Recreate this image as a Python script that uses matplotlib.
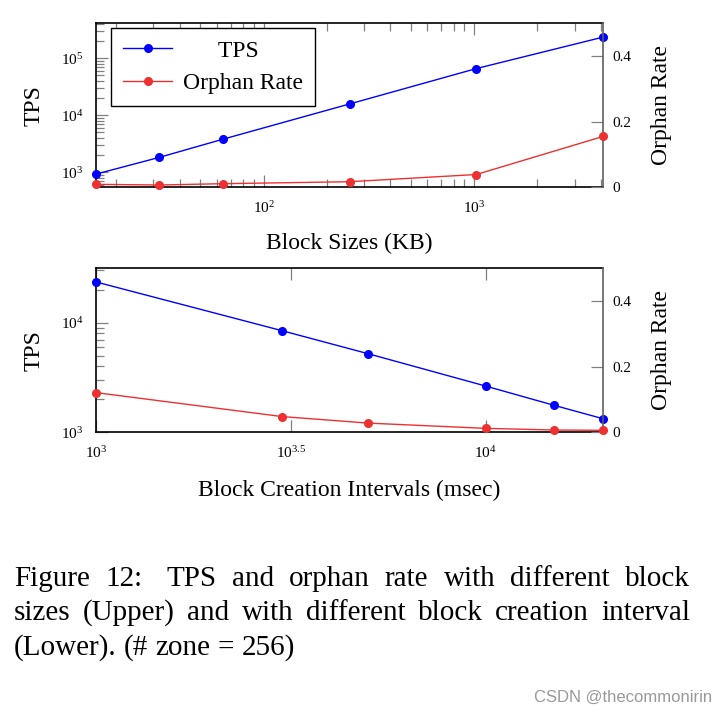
import matplotlib
matplotlib.use("Agg")
import matplotlib.pyplot as plt
import matplotlib.ticker as mticker
import numpy as np

# ---------------- data ----------------
block_sizes = [16, 32, 64, 256, 1024, 4096]
tps_size = [930, 1830, 3800, 15800, 66000, 235000]
orphan_size = [0.009, 0.007, 0.011, 0.017, 0.039, 0.155]

intervals = [1000, 3000, 5000, 10000, 15000, 20000]
tps_interval = [23500, 8450, 5200, 2640, 1760, 1330]
orphan_interval = [0.121, 0.048, 0.028, 0.012, 0.007, 0.006]

interval_ticks = [1000, 10 ** 3.5, 10000]
interval_tick_labels = [r"$10^{3}$", r"$10^{3.5}$", r"$10^{4}$"]
orphan_ticks = [0, 0.2, 0.4]
orphan_tick_labels = ["0", "0.2", "0.4"]

caption_lines = [
    "Figure 12:  TPS and orphan rate with different block",
    "sizes (Upper) and with different block creation interval",
    "(Lower). (# zone = 256)",
]

# ---------------- style ----------------
plt.rcParams["font.family"] = ["Liberation Serif", "DejaVu Serif"]
plt.rcParams["mathtext.fontset"] = "custom"
plt.rcParams["mathtext.rm"] = "Liberation Serif"
plt.rcParams["mathtext.it"] = "Liberation Serif:italic"
plt.rcParams["mathtext.bf"] = "Liberation Serif:bold"

W, H = 728, 717
fig = plt.figure(figsize=(W / 100, H / 100), dpi=100)
fig.patch.set_facecolor("white")

BLUE = "#0000ff"
RED = "#ee3030"
TICKC = "#808080"
LABEL_FS = 17
TICK_FS = 11


def style_axes(ax, ax2):
    for s in ["left", "top", "bottom"]:
        ax.spines[s].set_color("black")
        ax.spines[s].set_linewidth(1.2)
    ax.spines["right"].set_visible(False)
    for s in ["left", "top", "bottom"]:
        ax2.spines[s].set_visible(False)
    ax2.spines["right"].set_color("#606060")
    ax2.spines["right"].set_linewidth(1.2)
    ax.tick_params(axis="both", which="major", direction="in", length=8.5,
                   width=0.9, color=TICKC, labelsize=TICK_FS,
                   top=True, right=False)
    ax.tick_params(axis="both", which="minor", direction="in", length=5.5,
                   width=0.9, color=TICKC, top=True, right=False)
    ax.tick_params(axis="x", which="major", pad=9)
    ax.tick_params(axis="y", which="major", pad=9)
    ax2.tick_params(axis="y", which="major", direction="in", length=8.5,
                    width=0.9, color=TICKC, labelsize=TICK_FS, pad=7)
    ax2.tick_params(axis="x", which="both", bottom=False, top=False,
                    labelbottom=False, labeltop=False)
    ax2.set_ylim(0, 0.5)
    ax2.set_yticks(orphan_ticks)
    ax2.set_yticklabels(orphan_tick_labels)


def log_fmt(v, pos):
    e = int(round(np.log10(v)))
    return r"$10^{%d}$" % e


ax_w = 507 / W
ax_h = 164 / H
left = 96 / W

# ---------------- upper chart ----------------
ax1 = fig.add_axes([left, 1 - 187.3 / H, ax_w, ax_h])
ax1b = ax1.twinx()
ax1.set_xscale("log")
ax1.set_yscale("log")
l1, = ax1.plot(block_sizes, tps_size, color=BLUE, lw=1.0, marker="o", ms=5.5,
               label="TPS", clip_on=False, zorder=3)
l2, = ax1b.plot(block_sizes, orphan_size, color=RED, lw=1.0, marker="o",
                ms=5.5, label="Orphan Rate", clip_on=False, zorder=3)
ax1.set_xlim(16, 4096)
ax1.set_ylim(546, 411000)
ax1.xaxis.set_major_locator(mticker.LogLocator(base=10))
ax1.xaxis.set_minor_locator(mticker.LogLocator(base=10, subs=np.arange(2, 10)))
ax1.xaxis.set_major_formatter(mticker.FuncFormatter(log_fmt))
ax1.xaxis.set_minor_formatter(mticker.NullFormatter())
ax1.yaxis.set_major_locator(mticker.LogLocator(base=10))
ax1.yaxis.set_minor_locator(mticker.LogLocator(base=10, subs=np.arange(2, 10)))
ax1.yaxis.set_major_formatter(mticker.FuncFormatter(log_fmt))
ax1.yaxis.set_minor_formatter(mticker.NullFormatter())
style_axes(ax1, ax1b)
ax1.set_ylabel("TPS", fontsize=LABEL_FS)
ax1.yaxis.set_label_coords(-0.123, 0.5)
ax1.yaxis.label.set_va("center")
ax1b.set_ylabel("Orphan Rate", fontsize=LABEL_FS)
ax1b.yaxis.set_label_coords(1.116, 0.5)
ax1b.yaxis.label.set_va("center")
ax1.set_xlabel("Block Sizes (KB)", fontsize=LABEL_FS)
ax1.xaxis.set_label_coords(0.5, (187.3 - 243) / 164)
ax1.xaxis.label.set_va("center")

leg = ax1b.legend([l1, l2], ["      TPS", "Orphan Rate"], loc="upper left",
                  bbox_to_anchor=(15 / 507, 1 - 5 / 164), borderaxespad=0,
                  fontsize=LABEL_FS, fancybox=False, framealpha=1,
                  edgecolor="black", handlelength=2.1, handletextpad=0.45,
                  labelspacing=0.48, borderpad=0.5)
leg.get_frame().set_linewidth(1.0)
leg.set_zorder(10)

# ---------------- lower chart ----------------
ax2 = fig.add_axes([left, 1 - 432.3 / H, ax_w, ax_h])
ax2b = ax2.twinx()
ax2.set_xscale("log")
ax2.set_yscale("log")
ax2.plot(intervals, tps_interval, color=BLUE, lw=1.0, marker="o", ms=5.5,
         clip_on=False, zorder=3)
ax2b.plot(intervals, orphan_interval, color=RED, lw=1.0, marker="o", ms=5.5,
          clip_on=False, zorder=3)
ax2.set_xlim(1000, 20000)
ax2.set_ylim(1000, 31300)
ax2.xaxis.set_major_locator(mticker.FixedLocator(interval_ticks))
ax2.xaxis.set_major_formatter(mticker.FixedFormatter(interval_tick_labels))
ax2.xaxis.set_minor_locator(mticker.NullLocator())
ax2.yaxis.set_major_locator(mticker.LogLocator(base=10))
ax2.yaxis.set_minor_locator(mticker.LogLocator(base=10, subs=np.arange(2, 10)))
ax2.yaxis.set_major_formatter(mticker.FuncFormatter(log_fmt))
ax2.yaxis.set_minor_formatter(mticker.NullFormatter())
style_axes(ax2, ax2b)
ax2.set_ylabel("TPS", fontsize=LABEL_FS)
ax2.yaxis.set_label_coords(-0.123, 0.5)
ax2.yaxis.label.set_va("center")
ax2b.set_ylabel("Orphan Rate", fontsize=LABEL_FS)
ax2b.yaxis.set_label_coords(1.116, 0.5)
ax2b.yaxis.label.set_va("center")
ax2.set_xlabel("Block Creation Intervals (msec)", fontsize=LABEL_FS)
ax2.xaxis.set_label_coords(0.5, (432.3 - 490) / 164)
ax2.xaxis.label.set_va("center")

# ---------------- caption (justified) ----------------
CAP_FS = 21
fig.canvas.draw()
renderer = fig.canvas.get_renderer()


def place_line(line, y_px, x0, x1, justify):
    words = line.split()
    texts = [fig.text(0, 1 - y_px / H, w, fontsize=CAP_FS, va="baseline",
                      ha="left") for w in words]
    widths = [t.get_window_extent(renderer).width for t in texts]
    if justify and len(words) > 1:
        weights = [1.6 if words[i].endswith(":") else 1.0
                   for i in range(len(words) - 1)]
        gap_unit = ((x1 - x0) - sum(widths)) / sum(weights)
        gaps = [gap_unit * wt for wt in weights]
    else:
        sp = CAP_FS * 100 / 72 * 0.25
        gaps = [sp] * (len(words) - 1)
    x = x0
    for i, (t, w) in enumerate(zip(texts, widths)):
        t.set_x(x / W)
        if i < len(gaps):
            x += w + gaps[i]


place_line(caption_lines[0], 586, 14, 690, True)
place_line(caption_lines[1], 620, 14, 690, True)
place_line(caption_lines[2], 655, 14, 690, False)

fig.text(712 / W, 1 - 697 / H, "CSDN @thecommonirin", fontsize=12,
         family="Liberation Sans", color="#999999", ha="right", va="center")

fig.savefig("out.png", dpi=100)
